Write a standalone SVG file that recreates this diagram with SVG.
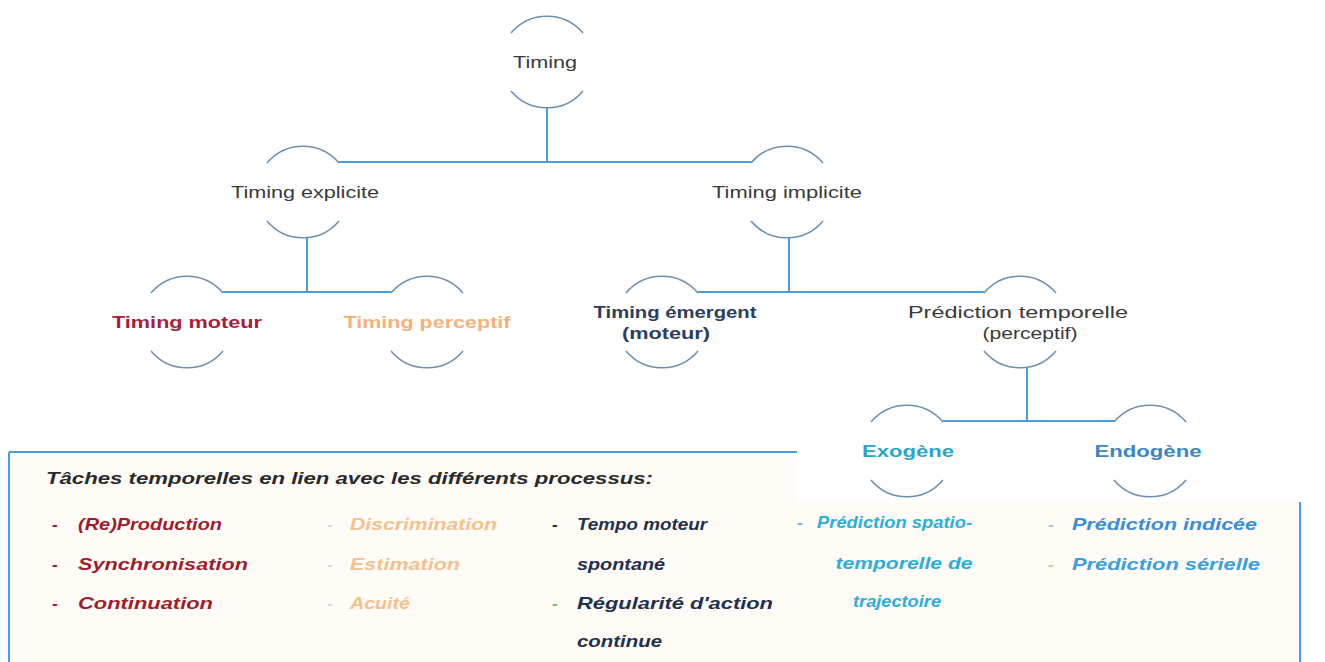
<svg xmlns="http://www.w3.org/2000/svg" width="1325" height="662" viewBox="0 0 1325 662">
<style>
text{font-family:"Liberation Sans",Arial,sans-serif;font-size:17px}
.n{fill:#3a3a3a}
.b{font-weight:bold}
.bi{font-weight:bold;font-style:italic}
.arc{fill:none;stroke:#6a8fb0;stroke-width:1.5}
.con{fill:none;stroke:#4a9ee0;stroke-width:2}
.red{fill:#a01c2c}
.org{fill:#f5c08c}
.navy{fill:#22304d}
.cyan{fill:#2aaedb}
.blue{fill:#3a8ed6}
</style>
<defs>
<path id="arcs" class="arc" d="M-36,-29 A47,47 0 0 1 36,-29 M-36,29 A47,47 0 0 0 36,29"/>
</defs>
<rect width="1325" height="662" fill="#ffffff"/>
<path d="M10,453 H797 V502 H1300 V662 H10 Z" fill="#fffcf8"/>

<g id="connectors">
<path class="con" d="M547,108 V162 M339,162 H751 M307,238 V292 M223,292 H391 M789,238 V292 M698,292 H984 M1027,368 V421 M943,421 H1114"/>
</g>

<g id="node-timing">
<use href="#arcs" x="547" y="62"/>
<text class="n" x="545" y="68" text-anchor="middle" textLength="64" lengthAdjust="spacingAndGlyphs">Timing</text>
</g>
<g id="node-explicite">
<use href="#arcs" x="303" y="192"/>
<text class="n" x="305" y="198" text-anchor="middle" textLength="148" lengthAdjust="spacingAndGlyphs">Timing explicite</text>
</g>
<g id="node-implicite">
<use href="#arcs" x="787" y="192"/>
<text class="n" x="787" y="198" text-anchor="middle" textLength="150" lengthAdjust="spacingAndGlyphs">Timing implicite</text>
</g>
<g id="node-moteur">
<use href="#arcs" x="187" y="322"/>
<text class="b" fill="#a3213a" x="187" y="328" text-anchor="middle" textLength="150" lengthAdjust="spacingAndGlyphs">Timing moteur</text>
</g>
<g id="node-perceptif">
<use href="#arcs" x="427" y="322"/>
<text class="b" fill="#f2b27a" x="427" y="328" text-anchor="middle" textLength="167" lengthAdjust="spacingAndGlyphs">Timing perceptif</text>
</g>
<g id="node-emergent">
<use href="#arcs" x="662" y="322"/>
<text class="b" fill="#2c3e5e" x="675" y="318" text-anchor="middle" textLength="163" lengthAdjust="spacingAndGlyphs">Timing émergent</text>
<text class="b" fill="#2c3e5e" x="666" y="339" text-anchor="middle" textLength="88" lengthAdjust="spacingAndGlyphs">(moteur)</text>
</g>
<g id="node-prediction">
<use href="#arcs" x="1020" y="322"/>
<text class="n" x="1018" y="318" text-anchor="middle" textLength="220" lengthAdjust="spacingAndGlyphs">Prédiction temporelle</text>
<text class="n" x="1030" y="339" text-anchor="middle" textLength="95" lengthAdjust="spacingAndGlyphs">(perceptif)</text>
</g>
<g id="node-exogene">
<use href="#arcs" x="907" y="451"/>
<text class="b" fill="#2aa6c9" x="908" y="457" text-anchor="middle" textLength="92" lengthAdjust="spacingAndGlyphs">Exogène</text>
</g>
<g id="node-endogene">
<use href="#arcs" x="1150" y="451"/>
<text class="b" fill="#3b86c6" x="1148" y="457" text-anchor="middle" textLength="107" lengthAdjust="spacingAndGlyphs">Endogène</text>
</g>

<g id="tasks-box">
<path d="M9,452 H797 M9,452 V662" fill="none" stroke="#4a9ee0" stroke-width="2"/>
<path d="M1300,502 V662" fill="none" stroke="#4a9ee0" stroke-width="2"/>
<text class="bi" fill="#2a2a2a" x="46" y="484" textLength="607" lengthAdjust="spacingAndGlyphs">Tâches temporelles  en lien avec les différents processus:</text>

<text class="bi red" x="52" y="530">-</text>
<text class="bi red" x="78" y="530" textLength="144" lengthAdjust="spacingAndGlyphs">(Re)Production</text>
<text class="bi red" x="52" y="570">-</text>
<text class="bi red" x="78" y="570" textLength="170" lengthAdjust="spacingAndGlyphs">Synchronisation</text>
<text class="bi red" x="52" y="609">-</text>
<text class="bi red" x="78" y="609" textLength="135" lengthAdjust="spacingAndGlyphs">Continuation</text>

<text class="bi" fill="#dcdcdc" x="327" y="530">-</text>
<text class="bi org" x="350" y="530" textLength="147" lengthAdjust="spacingAndGlyphs">Discrimination</text>
<text class="bi" fill="#dcdcdc" x="327" y="570">-</text>
<text class="bi org" x="350" y="570" textLength="110" lengthAdjust="spacingAndGlyphs">Estimation</text>
<text class="bi" fill="#dcdcdc" x="327" y="609">-</text>
<text class="bi org" x="350" y="609" textLength="60" lengthAdjust="spacingAndGlyphs">Acuité</text>

<text class="bi navy" x="552" y="530">-</text>
<text class="bi navy" x="577" y="530" textLength="130" lengthAdjust="spacingAndGlyphs">Tempo moteur</text>
<text class="bi navy" x="577" y="570" textLength="88" lengthAdjust="spacingAndGlyphs">spontané</text>
<text class="bi" fill="#7cba6a" x="552" y="609">-</text>
<text class="bi navy" x="577" y="609" textLength="196" lengthAdjust="spacingAndGlyphs">Régularité d'action</text>
<text class="bi navy" x="577" y="647" textLength="85" lengthAdjust="spacingAndGlyphs">continue</text>

<text class="bi" fill="#6bb8e6" x="797" y="528">-</text>
<text class="bi cyan" x="817" y="528" textLength="155" lengthAdjust="spacingAndGlyphs">Prédiction spatio-</text>
<text class="bi cyan" x="904" y="569" text-anchor="middle" textLength="137" lengthAdjust="spacingAndGlyphs">temporelle de</text>
<text class="bi cyan" x="897" y="607" text-anchor="middle" textLength="88" lengthAdjust="spacingAndGlyphs">trajectoire</text>

<text class="bi" fill="#9cc6e6" x="1048" y="530">-</text>
<text class="bi blue" x="1072" y="530" textLength="185" lengthAdjust="spacingAndGlyphs">Prédiction indicée</text>
<text class="bi" fill="#f5c08c" x="1048" y="570">-</text>
<text class="bi" fill="#3a9ee0" x="1072" y="570" textLength="188" lengthAdjust="spacingAndGlyphs">Prédiction sérielle</text>
</g>
</svg>
